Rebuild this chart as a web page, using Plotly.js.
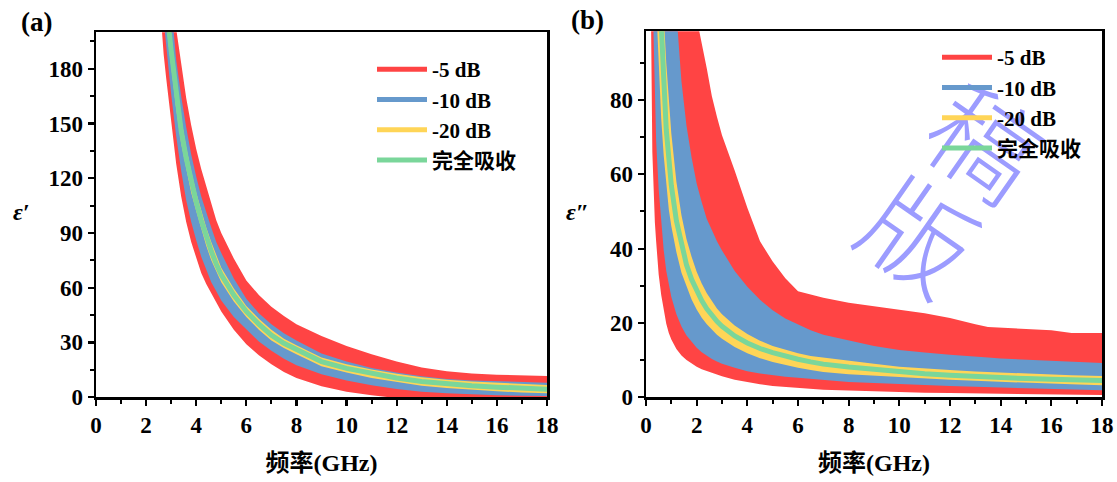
<!DOCTYPE html>
<html>
<head>
<meta charset="utf-8">
<script src="https://cdn.plot.ly/plotly-3.0.1.min.js"></script>
<style>html,body{margin:0;padding:0;background:#fff;}#chart{width:1117px;height:482px;}</style>
</head>
<body>
<div id="chart"></div>
<script>
// ---------- Data ----------
// Panel (a): real permittivity ε′ band limits vs frequency (GHz)
const fA = [2.5,2.6,2.7,2.8,2.9,3.0,3.2,3.4,3.6,3.8,4.0,4.2,4.4,4.6,4.8,5.0,5.5,6.0,6.5,7.0,7.5,8,9,10,11,12,13,14,15,16,17,18];
const redHiA  = [330,305,280,260,243,228,202,183,164,149,136,125,116,106,97,90,76,64,56,49.5,44.5,40,33.5,28,23.5,19.5,16.3,14.2,13,12.3,11.9,11.6];
const blueHiA = [300,280,262,243,225,210,185,165,148,133,121,110,101,93,85,79,65,54,46,40,35,31,24,19.5,16,13.5,11.4,10,9.2,8.6,8.2,7.9];
const yelHiA  = [290,268,247,228,213,199,174,153,137,124,112,102,93,85,77.5,71,59.5,50,43,37,32,28.5,21.8,18.1,15.1,12.8,10.9,9.6,8.6,7.8,7.2,6.7];
const greenA  = [275,255,236,218,203,190,166,146,131,118,107,97,88,80,73,67,56,47,40,34,29.5,26,19.5,15.8,12.8,10.5,8.6,7.3,6.3,5.5,4.9,4.4];
const yelLoA  = [262,242,224,208,193,181,158,139,125,112,102,92,83,75,68.5,63,52.5,44,37,31,27,23.5,17,13.5,10.5,8.2,6.3,5.0,4.0,3.2,2.6,2.1];
const blueLoA = [240,222,207,193,179,166,143,124,108,96,86,77,70,63,58,53,44,37,30.5,25.5,21,17.5,12.5,9.2,6.5,4.5,3,2.1,1.5,1.1,0.8,0.6];
const redLoA  = [225,204,188,175,163,150,128,110,96,85,76,68,62,57,52,47,37,29,23,18,13.8,10.5,6,3,1,-0.5,-2,-2,-2,-2,-2,-2];

// Panel (b): imaginary permittivity ε″ band limits vs frequency (GHz)
const fB = [0.15,0.2,0.25,0.3,0.35,0.4,0.5,0.6,0.7,0.8,0.9,1.0,1.2,1.4,1.6,1.8,2.0,2.2,2.4,2.6,2.8,3.0,3.5,4.0,4.5,5.0,5.5,6.0,6.5,7,8,9,10,11,12,13,13.5,14,15,16,16.8,18];
const redHiB  = [300,280,260,245,230,220,200,185,172,162,152,145,132,122,114,108,102,96,88.5,81,75.5,70.5,61,51,42,36.5,32,28.5,27.6,26.8,25.4,24.5,23.6,22.6,21.3,19.6,18.9,18.7,18.4,18.0,17.3,17.3];
const blueHiB = [400,380,360,340,320,295,236,197,169,148,131,118,101,85,73,64.5,57.5,52.5,48,45,42,39.5,34,29.7,26.2,23.4,21.2,19.6,18,16.8,15.2,13.8,12.7,12.0,11.4,10.9,10.7,10.4,10.0,9.7,9.5,9.2];
const yelHiB  = [450,340,272,227,194,170,136,120,103,90,80,71,58,49,42.5,37.8,33.8,30.6,28,25.8,23.9,22.3,19.3,17,15.2,13.8,12.7,11.8,11.1,10.6,9.8,9.0,8.2,7.7,7.3,6.9,6.7,6.6,6.3,6.1,5.9,5.7];
const greenB  = [380,285,228,190,163,143,115,103,86,72,63.5,57,47.5,40.7,35.6,31.7,28.5,26,23.8,21.9,20.4,19.1,16.5,14.6,13.1,12.0,11.0,10.2,9.5,8.9,8.1,7.4,6.8,6.3,5.9,5.5,5.35,5.2,5.0,4.8,4.65,4.5];
const yelLoB  = [313,235,188,150,125,106,88,75,65,57,50.5,46,39,33.5,29.6,26.3,23.6,21.4,19.6,18.1,16.8,15.7,13.5,11.8,10.5,9.5,8.6,7.9,7.3,6.8,6.2,5.8,5.4,5.0,4.7,4.4,4.25,4.1,3.85,3.6,3.45,3.2];
const blueLoB = [190,140,112,97,79,69,56,47,39.5,34,30,27,22.3,19,16.6,14.8,13.3,12.1,11.1,10.3,9.6,9.0,7.9,7.0,6.4,5.9,5.5,5.2,4.9,4.6,4.1,3.8,3.5,3.2,3.0,2.8,2.7,2.6,2.4,2.2,2.05,1.85];
const redLoB  = [120,100,66,53,47,42,33,27.5,23,19.8,17.3,15.5,13,11.2,10,9,8.2,7.5,7.0,6.5,6.0,5.6,4.7,4.0,3.5,3.0,2.7,2.4,2.2,2.0,1.8,1.55,1.35,1.2,1.1,1.0,0.95,0.9,0.8,0.7,0.65,0.6];

const seriesNames = ['-5 dB','-10 dB','-20 dB','完全吸收'];
const seriesColors = ['#FF4444','#6699CC','#FFD557','#7AD69A'];
const xTickVals = [0,2,4,6,8,10,12,14,16,18];

// ---------- Build traces ----------
const SERIF = 'Liberation Serif';
const MIXED = 'Liberation Serif, Noto Sans CJK SC';
function band(x, lo, hi, color, xa, ya) {
  return {
    type: 'scatter', mode: 'lines', xaxis: xa, yaxis: ya,
    x: x.concat(x.slice().reverse()),
    y: lo.concat(hi.slice().reverse()),
    fill: 'toself', fillcolor: color, line: {width: 0, color: color},
    hoverinfo: 'skip', showlegend: false
  };
}
function centre(x, y, color, xa, ya) {
  return {type:'scatter', mode:'lines', xaxis:xa, yaxis:ya, x:x, y:y,
    line:{color:color, width:5}, hoverinfo:'skip', showlegend:false};
}
function legendItems(xa, ya, leg) {
  return seriesNames.map((n, i) => ({
    type:'scatter', mode:'lines', xaxis:xa, yaxis:ya, x:[null], y:[null],
    name:n, legend:leg, line:{color:seriesColors[i], width:5}, hoverinfo:'skip'
  }));
}

const traces = [
  band(fA, redLoA, redHiA, seriesColors[0], 'x', 'y'),
  band(fA, blueLoA, blueHiA, seriesColors[1], 'x', 'y'),
  band(fA, yelLoA, yelHiA, seriesColors[2], 'x', 'y'),
  centre(fA, greenA, seriesColors[3], 'x', 'y'),
  band(fB, redLoB, redHiB, seriesColors[0], 'x2', 'y2'),
  band(fB, blueLoB, blueHiB, seriesColors[1], 'x2', 'y2'),
  band(fB, yelLoB, yelHiB, seriesColors[2], 'x2', 'y2'),
  centre(fB, greenB, seriesColors[3], 'x2', 'y2'),
  ...legendItems('x', 'y', 'legend'),
  ...legendItems('x2', 'y2', 'legend2')
];

const tickFont = {family: SERIF, size: 23, color: '#000', weight: 'bold'};
function xAxis(domain, anchor) {
  return {
    domain: domain, anchor: anchor, range: [0, 18], tickvals: xTickVals,
    ticks: 'outside', ticklen: 6, tickwidth: 2.2, tickcolor: '#000',
    minor: {dtick: 1, tick0: 0, ticks: 'outside', ticklen: 4, tickwidth: 2, tickcolor: '#000'},
    showline: true, linewidth: 2.5, linecolor: '#000', mirror: true,
    showgrid: false, zeroline: false, tickfont: tickFont,
    title: {text: '频率(GHz)', font: {family: MIXED, size: 24, color: '#000', weight: 'bold'}, standoff: 17}
  };
}
function yAxis(domain, anchor, range, dtick) {
  return {
    domain: domain, anchor: anchor, range: range, tick0: 0, dtick: dtick,
    ticks: 'outside', ticklen: 6, tickwidth: 2.2, tickcolor: '#000',
    minor: {dtick: dtick / 2, tick0: 0, ticks: 'outside', ticklen: 4, tickwidth: 2, tickcolor: '#000'},
    showline: true, linewidth: 2.5, linecolor: '#000', mirror: true,
    showgrid: false, zeroline: false, tickfont: tickFont
  };
}
const legFont = {family: MIXED, size: 21, color: '#000', weight: 'bold'};
function wm(ch, px, py) {
  return {
    type: 'rect', xref: 'paper', yref: 'paper', layer: 'below',
    x0: px / 1117 - 0.01, x1: px / 1117 + 0.01, y0: 1 - py / 482 - 0.01, y1: 1 - py / 482 + 0.01,
    line: {width: 0}, fillcolor: 'rgba(0,0,0,0)',
    label: {text: ch, textangle: 35, textposition: 'middle center',
      font: {family: 'Noto Sans CJK SC', size: 108, color: '#9C9CFF', weight: 300}}
  };
}
function label(text, px, py, size, style) {
  return {text: text, xref: 'paper', yref: 'paper', x: px / 1117, y: 1 - py / 482,
    xanchor: 'center', yanchor: 'middle', showarrow: false,
    font: {family: SERIF, size: size, color: '#000', weight: 'bold', style: style || 'normal'}};
}

const layout = {
  width: 1117, height: 482,
  margin: {l: 0, r: 0, t: 0, b: 0},
  paper_bgcolor: '#fff', plot_bgcolor: 'rgba(0,0,0,0)',
  showlegend: true,
  xaxis: xAxis([96/1117, 547/1117], 'y'),
  yaxis: yAxis([0.176, 0.933], 'x', [0, 200], 30),
  xaxis2: xAxis([646/1117, 1102/1117], 'y2'),
  yaxis2: yAxis([0.176, 0.935], 'x2', [0, 98.5], 20),
  legend: {x: 372/1117, y: 1 - 49/482, xanchor: 'left', yanchor: 'top', bgcolor: 'rgba(0,0,0,0)', font: legFont, itemwidth: 50, tracegroupgap: 0},
  legend2: {x: 937/1117, y: 1 - 37/482, xanchor: 'left', yanchor: 'top', bgcolor: 'rgba(0,0,0,0)', font: legFont, itemwidth: 50, tracegroupgap: 0},
  shapes: [wm('版', 912, 246), wm('稿', 978, 152)],
  annotations: [
    label('(a)', 36, 22, 27),
    label('(b)', 587, 20, 27),
    label('ε′', 21, 212, 24, 'italic'),
    label('ε″', 577, 212, 24, 'italic')
  ]
};

Plotly.newPlot('chart', traces, layout, {displayModeBar: false, staticPlot: true});
</script>
</body>
</html>
